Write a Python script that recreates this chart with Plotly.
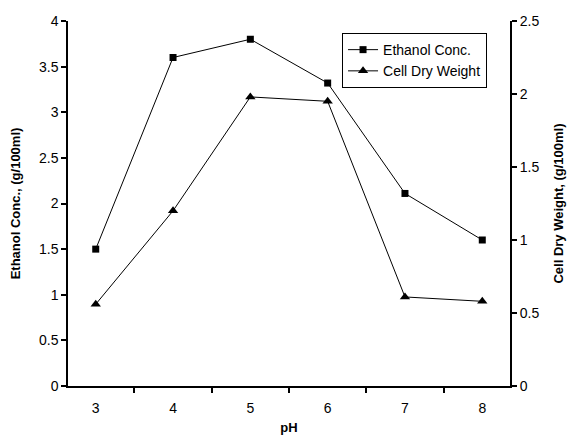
import plotly.graph_objects as go

ph = ["3", "4", "5", "6", "7", "8"]
ethanol = [1.5, 3.6, 3.8, 3.32, 2.11, 1.6]
cell_dry = [0.56, 1.2, 1.98, 1.95, 0.61, 0.58]

FONT = "Liberation Sans, Arial, sans-serif"

fig = go.Figure()
fig.add_trace(go.Scatter(
    x=ph, y=ethanol, name="Ethanol Conc.", mode="lines+markers",
    line=dict(color="black", width=1),
    marker=dict(symbol="square", size=7, color="black"),
    yaxis="y"))
fig.add_trace(go.Scatter(
    x=ph, y=cell_dry, name="Cell Dry Weight", mode="lines+markers",
    line=dict(color="black", width=1),
    marker=dict(symbol="triangle-up", size=9, color="black"),
    yaxis="y2"))

fig.update_layout(
    width=569, height=436,
    margin=dict(l=60, r=67, t=13, b=58, autoexpand=False),
    paper_bgcolor="white", plot_bgcolor="white",
    font=dict(family=FONT, size=14, color="black"),
    showlegend=True,
    legend=dict(x=0.62, y=0.967, xanchor="left", yanchor="top",
                bgcolor="white", bordercolor="black", borderwidth=1,
                font=dict(size=14), tracegroupgap=2),
    xaxis=dict(type="category", tickson="boundaries", ticks="outside",
               ticklen=5, tickwidth=1.5, tickcolor="black",
               ticklabelstandoff=8,
               showline=True, linecolor="black", linewidth=2,
               showgrid=False, zeroline=False,
               title=dict(text="<b>pH</b>", font=dict(size=13), standoff=8)),
    yaxis=dict(range=[0, 4], dtick=0.5, ticks="outside", ticklen=5,
               tickwidth=1.5, tickcolor="black",
               showline=True, linecolor="black", linewidth=1.5,
               showgrid=False, zeroline=False,
               title=dict(text="<b>Ethanol Conc., (g/100ml)</b>",
                          font=dict(size=13), standoff=16)),
    yaxis2=dict(range=[0, 2.5], dtick=0.5, overlaying="y", side="right",
                ticks="outside", ticklen=5, tickwidth=1.5, tickcolor="black",
                showline=True, linecolor="black", linewidth=2,
                showgrid=False, zeroline=False,
                title=dict(text="<b>Cell Dry Weight, (g/100ml)</b>",
                           font=dict(size=13), standoff=15)),
)

fig.write_html("out.html")
